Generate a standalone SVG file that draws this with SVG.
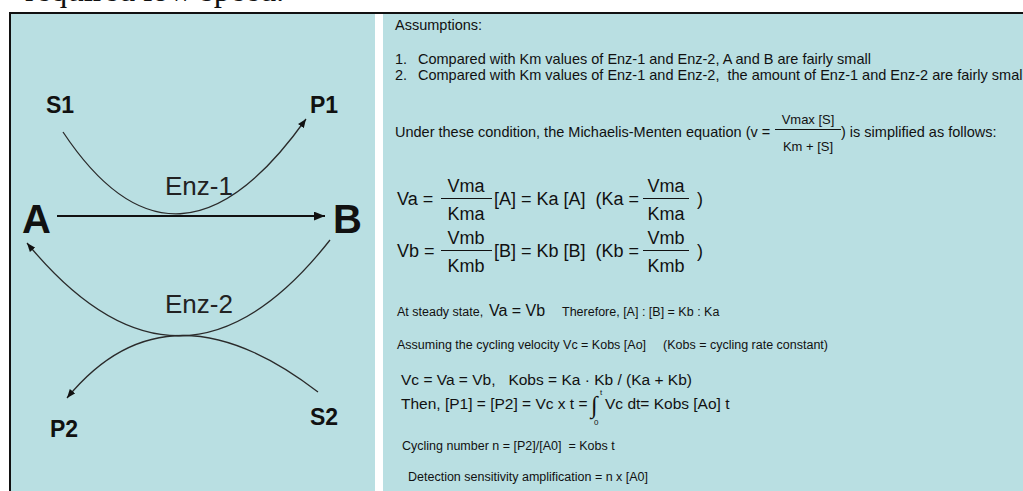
<svg xmlns="http://www.w3.org/2000/svg" width="1023" height="491" viewBox="0 0 1023 491">
<style>
.lbl{font-family:"Liberation Sans",Arial,sans-serif;font-weight:bold;fill:#111}
.enz{font-family:"Liberation Sans",Arial,sans-serif;font-size:26px;fill:#222}
.t{font-family:"Liberation Sans",Arial,sans-serif;font-size:14.5px;fill:#111;white-space:pre}
.eq{font-family:"Liberation Sans",Arial,sans-serif;font-size:18px;fill:#111;white-space:pre}
.eq2{font-family:"Liberation Sans",Arial,sans-serif;font-size:15.5px;fill:#111;white-space:pre}
.sm{font-family:"Liberation Sans",Arial,sans-serif;font-size:12.5px;fill:#111;white-space:pre}
.lim{font-family:"Liberation Sans",Arial,sans-serif;font-size:8px;fill:#111}
.cur{fill:none;stroke:#2a2a2a;stroke-width:1.3}
.main{fill:none;stroke:#111;stroke-width:2}
.fr{stroke:#111;stroke-width:1}
</style>
<defs>
<marker id="ah" viewBox="0 0 10 8" refX="10" refY="4" markerWidth="9" markerHeight="7" markerUnits="userSpaceOnUse" orient="auto">
<path d="M0,0 L10,4 L0,8 z" fill="#111"/>
</marker>
<marker id="ahb" viewBox="0 0 10 8" refX="10" refY="4" markerWidth="11" markerHeight="9" markerUnits="userSpaceOnUse" orient="auto">
<path d="M0,0 L10,4 L0,8 z" fill="#111"/>
</marker>
</defs>
<rect x="0" y="0" width="1023" height="491" fill="#ffffff"/>
<text x="25" y="1" style="font-family:'Liberation Serif','Times New Roman',serif;font-size:33px;fill:#111">required low speed.</text>
<rect x="10" y="13" width="1013" height="478" fill="#b9dfe2"/>
<rect x="375" y="14" width="8" height="477" fill="#ffffff"/>
<line x1="9" y1="13" x2="1023" y2="13" stroke="#111" stroke-width="2"/>
<line x1="10" y1="12" x2="10" y2="491" stroke="#111" stroke-width="2"/>

<g id="connectors">
<line class="main" x1="57" y1="216" x2="325" y2="216" marker-end="url(#ahb)"/>
<path class="cur" d="M63,132 Q176,302 306,119" marker-end="url(#ah)"/>
<path class="cur" d="M330,240 Q181,430 27,243" marker-end="url(#ah)"/>
<path class="cur" d="M318,392 Q167,276 67,398" marker-end="url(#ah)"/>
</g>
<g id="node-S1"><text class="lbl" x="46" y="113" font-size="23">S1</text></g>
<g id="node-P1"><text class="lbl" x="310" y="113" font-size="23">P1</text></g>
<g id="node-A"><text class="lbl" x="22" y="233" font-size="40">A</text></g>
<g id="node-B"><text class="lbl" x="333" y="233" font-size="40">B</text></g>
<g id="node-Enz1"><text class="enz" x="165" y="195">Enz-1</text></g>
<g id="node-Enz2"><text class="enz" x="165" y="313">Enz-2</text></g>
<g id="node-P2"><text class="lbl" x="50" y="437" font-size="23">P2</text></g>
<g id="node-S2"><text class="lbl" x="310" y="425" font-size="23">S2</text></g>

<g id="notes">
<text class="t" x="395" y="30">Assumptions:</text>
<text class="t" x="395" y="64">1.</text>
<text class="t" x="418" y="64">Compared with Km values of Enz-1 and Enz-2, A and B are fairly small</text>
<text class="t" x="395" y="80">2.</text>
<text class="t" x="418" y="80">Compared with Km values of Enz-1 and Enz-2,  the amount of Enz-1 and Enz-2 are fairly small</text>

<text class="t" x="395" y="137">Under these condition, the Michaelis-Menten equation (v = </text>
<text class="sm" x="808" y="124" text-anchor="middle" style="font-size:13px">Vmax [S]</text>
<line class="fr" x1="775" y1="129.5" x2="841" y2="129.5"/>
<text class="sm" x="808" y="151" text-anchor="middle" style="font-size:13px">Km + [S]</text>
<text class="t" x="841" y="137">) is simplified as follows:</text>

<text class="eq" x="397" y="205">Va = </text>
<text class="eq" x="466" y="192" text-anchor="middle">Vma</text>
<line class="fr" x1="441" y1="198.5" x2="492" y2="198.5"/>
<text class="eq" x="466" y="220" text-anchor="middle">Kma</text>
<text class="eq" x="494" y="205">[A] = Ka [A]  (Ka =</text>
<text class="eq" x="666" y="192" text-anchor="middle">Vma</text>
<line class="fr" x1="643" y1="198.5" x2="689" y2="198.5"/>
<text class="eq" x="666" y="220" text-anchor="middle">Kma</text>
<text class="eq" x="697" y="205">)</text>

<text class="eq" x="397" y="257">Vb = </text>
<text class="eq" x="466" y="244" text-anchor="middle">Vmb</text>
<line class="fr" x1="441" y1="250.5" x2="492" y2="250.5"/>
<text class="eq" x="466" y="272" text-anchor="middle">Kmb</text>
<text class="eq" x="494" y="257">[B] = Kb [B]  (Kb =</text>
<text class="eq" x="666" y="244" text-anchor="middle">Vmb</text>
<line class="fr" x1="643" y1="250.5" x2="689" y2="250.5"/>
<text class="eq" x="666" y="272" text-anchor="middle">Kmb</text>
<text class="eq" x="697" y="257">)</text>

<text class="sm" x="397" y="316">At steady state, </text>
<text class="eq" x="489" y="316" style="font-size:16px">Va = Vb</text>
<text class="sm" x="562" y="316">Therefore, [A] : [B] = Kb : Ka</text>

<text class="sm" x="397" y="349">Assuming the cycling velocity Vc = Kobs [Ao]</text>
<text class="sm" x="663" y="349">(Kobs = cycling rate constant)</text>

<text class="eq2" x="401" y="385">Vc = Va = Vb,   Kobs = Ka · Kb / (Ka + Kb)</text>
<text class="eq2" x="401" y="409">Then, [P1] = [P2] = Vc x t = </text>
<text x="591" y="413" style="font-family:'Liberation Serif',serif;font-size:24px;fill:#111">∫</text>
<text class="lim" x="600" y="395">t</text>
<text class="lim" x="594" y="425">0</text>
<text class="eq2" x="605" y="409">Vc dt= Kobs [Ao] t</text>

<text class="sm" x="402" y="450">Cycling number n = [P2]/[A0]  = Kobs t</text>
<text class="sm" x="408" y="481">Detection sensitivity amplification = n x [A0]</text>
</g>
</svg>
